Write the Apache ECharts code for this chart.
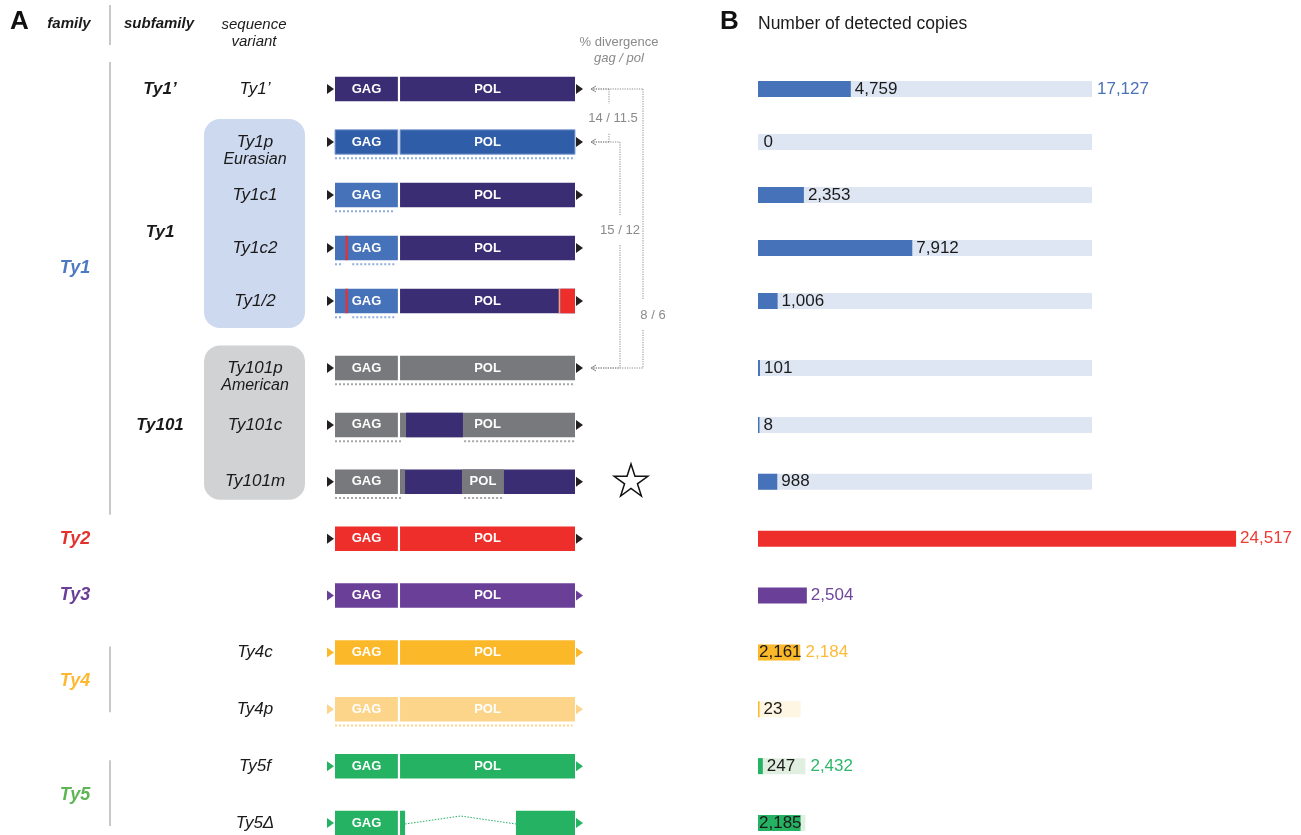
<!DOCTYPE html>
<html>
<head>
<meta charset="utf-8">
<title>Ty element variants and copy numbers</title>
<script src="https://cdn.jsdelivr.net/npm/echarts@6/dist/echarts.min.js"></script>
<style>
  html, body { margin: 0; padding: 0; background: #fff; }
  #chart { width: 1301px; height: 835px; }
</style>
</head>
<body>
<div id="chart"></div>
<script>
// ---- data -----------------------------------------------------------------
// Sequence variants, top to bottom; the first five form the upper block (Ty1' and the Ty1 subfamily)
const variants = ['Ty1’', 'Ty1p', 'Ty1c1', 'Ty1c2', 'Ty1/2', 'Ty101p', 'Ty101c', 'Ty101m', 'Ty2', 'Ty3', 'Ty4c', 'Ty4p', 'Ty5f', 'Ty5Δ'];
const upperRows = 5;
const variantLabels = ['Ty1’', 'Ty1p', 'Ty1c1', 'Ty1c2', 'Ty1/2', 'Ty101p', 'Ty101c', 'Ty101m', '', '', 'Ty4c', 'Ty4p', 'Ty5f', 'Ty5Δ'];
const variantNotes = ['', 'Eurasian', '', '', '', 'American', '', '', '', '', '', '', '', ''];
const familyOf = ['Ty1', 'Ty1', 'Ty1', 'Ty1', 'Ty1', 'Ty1', 'Ty1', 'Ty1', 'Ty2', 'Ty3', 'Ty4', 'Ty4', 'Ty5', 'Ty5'];
const families = ['Ty1', 'Ty2', 'Ty3', 'Ty4', 'Ty5'];
const subfamilies = ['Ty1’', 'Ty1', 'Ty101'];
const subfamilyRows = [['Ty1’'], ['Ty1p', 'Ty1c1', 'Ty1c2', 'Ty1/2'], ['Ty101p', 'Ty101c', 'Ty101m']];

// Detected copies per variant, and per family where a family has several variants
const copies = [4759, 0, 2353, 7912, 1006, 101, 8, 988, 24517, 2504, 2161, 23, 247, 2185];
const totalFamilies = ['Ty1', 'Ty4', 'Ty5'];
const totalCopies = [17127, 2184, 2432];

// Element structure in % of element length (GAG 0–26.2, POL 27.1–100):
// [from, to, lineage, domain name]; later stretches are painted over earlier ones
const blocks = [
  [[0, 26.2, 'ty1', 'GAG'], [27.1, 100, 'ty1', 'POL']],
  [[0, 26.2, 'ty1p', 'GAG'], [27.1, 100, 'ty1p', 'POL']],
  [[0, 26.2, 'ty1c', 'GAG'], [27.1, 100, 'ty1', 'POL']],
  [[0, 26.2, 'ty1c', 'GAG'], [4.4, 5.3, 'ty2'], [27.1, 100, 'ty1', 'POL']],
  [[0, 26.2, 'ty1c', 'GAG'], [4.4, 5.3, 'ty2'], [27.1, 100, 'ty1', 'POL'], [93.2, 94, 'ty2j'], [94, 100, 'ty2']],
  [[0, 26.2, 'ty101', 'GAG'], [27.1, 100, 'ty101', 'POL']],
  [[0, 26.2, 'ty101', 'GAG'], [27.1, 100, 'ty101', 'POL'], [29.6, 53.3, 'ty1']],
  [[0, 26.2, 'ty101', 'GAG'], [27.1, 100, 'ty1'], [27.1, 29.2, 'ty101'], [52.9, 70.4, 'ty101', 'POL']],
  [[0, 26.2, 'ty2', 'GAG'], [27.1, 100, 'ty2', 'POL']],
  [[0, 26.2, 'ty3', 'GAG'], [27.1, 100, 'ty3', 'POL']],
  [[0, 26.2, 'ty4c', 'GAG'], [27.1, 100, 'ty4c', 'POL']],
  [[0, 26.2, 'ty4p', 'GAG'], [27.1, 100, 'ty4p', 'POL']],
  [[0, 26.2, 'ty5', 'GAG'], [27.1, 100, 'ty5', 'POL']],
  [[0, 26.2, 'ty5', 'GAG'], [27.1, 29.2, 'ty5'], [75.4, 100, 'ty5']]
];
// Stretches underlined with dots (sequence shared with the variant's own lineage)
const dotted = [
  [], [[0, 100]], [[0, 25]], [[0, 3], [7.2, 25]], [[0, 3], [7.2, 25]],
  [[0, 100]], [[0, 28], [53.8, 100]], [[0, 28], [53.8, 70]],
  [], [], [], [[0, 99]], [], []
];
// Internal deletions
const gaps = [[], [], [], [], [], [], [], [], [], [], [], [], [], [[29.2, 75.4]]];
const starred = ['Ty101m'];
// Pairwise % divergence, gag / pol
const divergence = [['Ty1’', 'Ty1p', '14 / 11.5'], ['Ty1p', 'Ty101p', '15 / 12'], ['Ty1’', 'Ty101p', '8 / 6']];

// ---- styles ---------------------------------------------------------------
const FONT = '"Liberation Sans", Arial, Helvetica, sans-serif';
const INK = '#1a1a1a';
const lineageColour = {
  ty1: '#3B2D73', ty1p: '#2F5DA8', ty1c: '#4572B8', ty101: '#78797D',
  ty2: '#EE2E2A', ty2j: '#F4A08A', ty3: '#6A3F98', ty4c: '#FBB829', ty4p: '#FDD58A', ty5: '#25B262'
};
const dotColour = { ty1p: '#8FADDF', ty1c: '#8FADDF', ty101: '#A5A6A9', ty4p: '#FDD58A' };
const familyStyle = {
  Ty1: { label: '#4C79C3', bar: '#4672B9', pale: '#DFE6F3', total: '#4A72B5' },
  Ty2: { label: '#E3312D', bar: '#EE2E2A', total: '#EE3B33' },
  Ty3: { label: '#6A3F98', bar: '#6A3F98', total: '#6E469B' },
  Ty4: { label: '#FDB933', bar: '#FBB829', pale: '#FEF5E2', total: '#FDBB3A' },
  Ty5: { label: '#5DB653', bar: '#25B262', pale: '#E1EFE0', total: '#2EB76A' }
};

function textEl(s, x, y, font, fill, align) {
  align = align || 'center';
  return {
    type: 'text', x: x, y: y, silent: true,
    style: { text: s, font: font, fill: fill, align: align, verticalAlign: 'middle',
             textAlign: align, textVerticalAlign: 'middle' }
  };
}

function starPoints(cx, cy, R) {
  const r = R * 0.382, pts = [];
  for (let k = 0; k < 10; k++) {
    const a = -Math.PI / 2 + k * Math.PI / 5, rad = k % 2 ? r : R;
    pts.push([cx + rad * Math.cos(a), cy + rad * Math.sin(a)]);
  }
  return pts;
}

// Draws one element schematic per row of a block
function drawElements(offset) {
  return function (params, api) {
    const k = params.dataIndex, i = offset + k;
    const px = u => api.coord([u, k])[0];
    const yc = api.coord([0, k])[1];
    const x0 = px(0), x1 = px(100);
    const h = 24.5, top = yc - h / 2;
    const kids = [];
    const rowBlocks = blocks[i];

    if (variantLabels[i]) kids.push(textEl(variantLabels[i], x0 - 80, yc, 'italic 17px ' + FONT, INK));
    if (variantNotes[i]) kids.push(textEl(variantNotes[i], x0 - 80, yc + 18, 'italic 16px ' + FONT, INK));

    const f = familyOf[i];
    const ltr = (f === 'Ty1' || f === 'Ty2') ? '#231F20' : lineageColour[rowBlocks[rowBlocks.length - 1][2]];
    kids.push({ type: 'polygon', shape: { points: [[x0 - 8, yc - 5], [x0 - 1, yc], [x0 - 8, yc + 5]] }, style: { fill: ltr } });
    kids.push({ type: 'polygon', shape: { points: [[x1 + 1, yc - 5], [x1 + 8, yc], [x1 + 1, yc + 5]] }, style: { fill: ltr } });

    rowBlocks.forEach(b => {
      const xa = px(b[0]), xb = px(b[1]);
      kids.push({
        type: 'rect', shape: { x: xa, y: top, width: xb - xa, height: h },
        style: { fill: lineageColour[b[2]], stroke: b[2] === 'ty1p' ? '#88A3D4' : null, lineWidth: 1 }
      });
    });

    gaps[i].forEach(g => {
      const xa = px(g[0]), xb = px(g[1]);
      kids.push({
        type: 'polyline', shape: { points: [[xa, yc + 1], [(xa + xb) / 2, yc - 7], [xb, yc + 1]] },
        style: { stroke: lineageColour[rowBlocks[0][2]], lineWidth: 1, lineDash: [1.5, 1.5], fill: null }
      });
    });

    const dc = dotColour[rowBlocks[0][2]];
    dotted[i].forEach(d => {
      kids.push({
        type: 'line', shape: { x1: px(d[0]), y1: top + h + 4, x2: px(d[1]), y2: top + h + 4 },
        style: { stroke: dc, lineWidth: 2, lineDash: [2, 2] }
      });
    });

    rowBlocks.forEach(b => {
      if (b[3]) kids.push(textEl(b[3], (px(b[0]) + px(b[1])) / 2, yc, 'bold 13px ' + FONT, '#ffffff'));
    });

    if (starred.indexOf(variants[i]) >= 0) {
      kids.push({ type: 'polygon', shape: { points: starPoints(x1 + 56, yc, 17.7) },
                  style: { fill: '#ffffff', stroke: '#111', lineWidth: 1.5 } });
    }
    return { type: 'group', children: kids };
  };
}

// ---- bar data for the copy-number panel ----------------------------------
const insideLabels = ['Ty4c', 'Ty5Δ'];
const valueText = p => Number(p.value).toLocaleString('en-US');

const bgItems = variants.map((v, i) => {
  const f = familyOf[i], t = totalFamilies.indexOf(f);
  if (t < 0) return '-';
  const first = familyOf.indexOf(f) === i;
  return {
    value: totalCopies[t], itemStyle: { color: familyStyle[f].pale },
    label: { show: first, position: 'right', distance: 5, color: familyStyle[f].total }
  };
});

const fgItems = copies.map((c, i) => {
  const f = familyOf[i];
  const inside = insideLabels.indexOf(variants[i]) >= 0;
  const solo = totalFamilies.indexOf(f) < 0;
  return {
    value: c,
    itemStyle: { color: c === 0 ? 'rgba(0,0,0,0)' : familyStyle[f].bar },
    label: { position: inside ? 'insideLeft' : 'right', distance: inside ? 1 : 4,
             color: solo ? familyStyle[f].total : INK }
  };
});

// ---- chart ----------------------------------------------------------------
// Row axes run from the first row centre to the last row centre of each block
const groups = [variants.slice(0, upperRows), variants.slice(upperRows)];
const bands = [{ top: 89, height: 212 }, { top: 368, height: 455 }];

const chart = echarts.init(document.getElementById('chart'), null, { renderer: 'canvas' });

const grids = [], xAxes = [], yAxes = [], series = [];
[0, 1].forEach(g => {
  grids.push({ left: 335, width: 240, top: bands[g].top, height: bands[g].height });
});
[0, 1].forEach(g => {
  grids.push({ left: 758, width: 487.5, top: bands[g].top, height: bands[g].height });
});
grids.forEach((gr, gi) => {
  const isBar = gi >= 2;
  xAxes.push({ gridIndex: gi, type: 'value', min: 0, max: isBar ? 25000 : 100, show: false });
  yAxes.push({ gridIndex: gi, type: 'category', data: groups[gi % 2], inverse: true,
               boundaryGap: false, show: false });
});

[0, 1].forEach(g => {
  const offset = g === 0 ? 0 : upperRows;
  const n = groups[g].length;
  series.push({
    type: 'custom', xAxisIndex: g, yAxisIndex: g, clip: false, silent: true,
    data: groups[g].map((v, k) => [0, k]), encode: { x: 0, y: 1 },
    renderItem: drawElements(offset)
  });
  const labelBase = { show: true, fontFamily: FONT, fontSize: 17, formatter: valueText };
  series.push({
    type: 'bar', xAxisIndex: g + 2, yAxisIndex: g + 2, barWidth: 16, barGap: '-100%', silent: true,
    label: Object.assign({}, labelBase),
    data: bgItems.slice(offset, offset + n)
  });
  series.push({
    type: 'bar', xAxisIndex: g + 2, yAxisIndex: g + 2, barWidth: 16, barGap: '-100%', silent: true,
    barMinHeight: 1.5,
    label: Object.assign({}, labelBase),
    data: fgItems.slice(offset, offset + n)
  });
});

chart.setOption({
  animation: false,
  backgroundColor: '#ffffff',
  grid: grids, xAxis: xAxes, yAxis: yAxes, series: series
});

// ---- labels, brackets and boxes placed from the axes ----------------------
function rowY(name) {
  const i = variants.indexOf(name);
  return chart.convertToPixel({ gridIndex: i < upperRows ? 0 : 1 }, [0, name])[1];
}
const xStart = chart.convertToPixel({ gridIndex: 0 }, [0, variants[0]])[0];
const xEnd = chart.convertToPixel({ gridIndex: 0 }, [100, variants[0]])[0];
const xBars = chart.convertToPixel({ gridIndex: 2 }, [0, variants[0]])[0];
const colFamily = 75, colSubfamily = 160, colVariant = xStart - 80, ruleX = 110;
const RULE = '#C8C8C8', GREY = '#8A8A8A';

const G = [];
const line = (pts, stroke, width, dash) => ({
  type: 'polyline', silent: true, z: 5, shape: { points: pts },
  style: { stroke: stroke, lineWidth: width, lineDash: dash || null, fill: null }
});
const label = (s, x, y, font, fill, align) => Object.assign(textEl(s, x, y, font, fill, align), { z: 10 });

// headers
G.push(label('A', 10, 22, 'bold 26px ' + FONT, '#111', 'left'));
G.push(label('family', colFamily - 6, 24, 'italic bold 15px ' + FONT, INK));
G.push(line([[ruleX, 5], [ruleX, 45]], RULE, 2));
G.push(label('subfamily', colSubfamily - 1, 24, 'italic bold 15px ' + FONT, INK));
G.push(label('sequence', colVariant - 1, 25, 'italic 15px ' + FONT, INK));
G.push(label('variant', colVariant - 1, 42, 'italic 15px ' + FONT, INK));
G.push(label('% divergence', xEnd + 44, 42, '13px ' + FONT, GREY));
G.push(label('gag / pol', xEnd + 44, 58, 'italic 13px ' + FONT, GREY));
G.push(label('B', 720, 22, 'bold 26px ' + FONT, '#111', 'left'));
G.push(label('Number of detected copies', xBars, 24, '17.5px ' + FONT, INK, 'left'));

// family column
families.forEach(f => {
  const rows = variants.filter((v, i) => familyOf[i] === f);
  const yA = rowY(rows[0]), yB = rowY(rows[rows.length - 1]);
  if (rows.length > 1) {
    const pad = f === 'Ty1' ? [27, 33] : [6, 3];
    G.push(line([[ruleX, yA - pad[0]], [ruleX, yB + pad[1]]], RULE, 2));
  }
  const y = f === 'Ty1' ? rowY('Ty1c2') + 0.38 * (rowY('Ty1/2') - rowY('Ty1c2')) : (yA + yB) / 2;
  G.push(label(f, colFamily, y, 'italic bold 18px ' + FONT, familyStyle[f].label));
});

// subfamily column and boxes round grouped variants
subfamilies.forEach((s, j) => {
  const rows = subfamilyRows[j];
  const yA = rowY(rows[0]), yB = rowY(rows[rows.length - 1]);
  if (rows.length > 1) {
    const big = rows.length > 3;
    const topPad = big ? 23 : 22.5, bottomPad = big ? 27 : 18;
    G.push({
      type: 'rect', silent: true, z: 0,
      shape: { x: colVariant - 51, y: yA - topPad, width: 101, height: yB - yA + topPad + bottomPad, r: 16 },
      style: { fill: big ? '#CDD9EF' : '#D1D2D4' }
    });
  }
  const y = (yA + yB) / 2 + (rows.length > 3 ? 11 : 0);
  G.push(label(s, colSubfamily, y, 'italic bold 17px ' + FONT, INK));
});

// divergence brackets
const tip = xEnd + 16;
const bracketX = [xEnd + 34, xEnd + 45, xEnd + 68];
const labelAt = [0.56, 0.39, 0.81];
const labelDx = [4, 0, 10];
const DASH = [1.2, 1.2];
const arrowYs = [];
divergence.forEach((d, j) => {
  const yA = rowY(d[0]), yB = rowY(d[1]), x = bracketX[j];
  const yl = yA + labelAt[j] * (yB - yA);
  G.push(line([[tip, yA], [x, yA]], GREY, 1, DASH));
  G.push(line([[tip, yB], [x, yB]], GREY, 1, DASH));
  G.push(line([[x, yA], [x, yl - 15]], GREY, 1, DASH));
  G.push(line([[x, yl + 15], [x, yB]], GREY, 1, DASH));
  G.push(label(d[2], x + labelDx[j], yl, '13px ' + FONT, GREY));
  [yA, yB].forEach(y => { if (arrowYs.indexOf(y) < 0) arrowYs.push(y); });
});
arrowYs.forEach(y => G.push(line([[tip + 5, y - 3], [tip, y], [tip + 5, y + 3]], GREY, 1)));

chart.setOption({ graphic: { elements: G } });
</script>
</body>
</html>
